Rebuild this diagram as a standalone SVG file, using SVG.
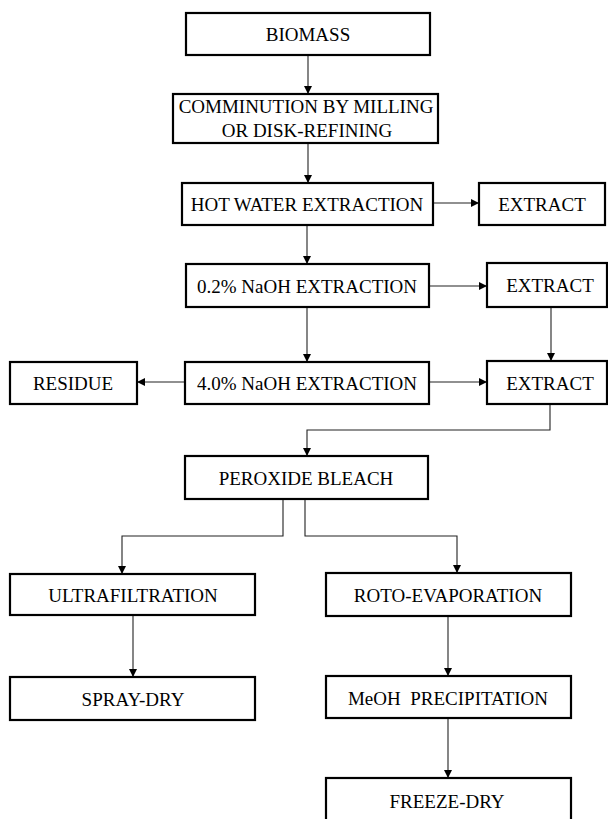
<svg xmlns="http://www.w3.org/2000/svg" width="608" height="819" viewBox="0 0 608 819">
<style>
.box{fill:#fff;stroke:#000;stroke-width:2.2}
.t{font-family:"Liberation Serif","Times New Roman",serif;font-size:19px;fill:#000;text-anchor:middle}
.c{fill:none;stroke:#222;stroke-width:1.1}
</style>
<defs>
<marker id="ah" viewBox="0 0 10 10" refX="10" refY="5" markerWidth="9" markerHeight="8" markerUnits="userSpaceOnUse" orient="auto">
<path d="M0,0 L10,5 L0,10 z" fill="#000"/>
</marker>
</defs>
<rect width="608" height="819" fill="#fff"/>
<g id="connectors">
<path class="c" d="M308,55 V94" marker-end="url(#ah)"/>
<path class="c" d="M308,143 V183" marker-end="url(#ah)"/>
<path class="c" d="M433,203 H479" marker-end="url(#ah)"/>
<path class="c" d="M307,225 V264" marker-end="url(#ah)"/>
<path class="c" d="M429,286 H487" marker-end="url(#ah)"/>
<path class="c" d="M307,307 V362" marker-end="url(#ah)"/>
<path class="c" d="M551,307 V361" marker-end="url(#ah)"/>
<path class="c" d="M185,382 H137" marker-end="url(#ah)"/>
<path class="c" d="M429,382 H487" marker-end="url(#ah)"/>
<path class="c" d="M550,404 V430 H307 V456" marker-end="url(#ah)"/>
<path class="c" d="M283,499 V536 H122 V574" marker-end="url(#ah)"/>
<path class="c" d="M305,499 V536 H457 V573" marker-end="url(#ah)"/>
<path class="c" d="M133,615 V677" marker-end="url(#ah)"/>
<path class="c" d="M448,616 V676" marker-end="url(#ah)"/>
<path class="c" d="M448,718 V778" marker-end="url(#ah)"/>
</g>
<g id="biomass"><rect class="box" x="186" y="13" width="244" height="42"/><text class="t" x="308" y="41">BIOMASS</text></g>
<g id="comminution"><rect class="box" x="173" y="94" width="265" height="49"/><text class="t" x="306" y="113">COMMINUTION BY MILLING</text><text class="t" x="307" y="137">OR DISK-REFINING</text></g>
<g id="hotwater"><rect class="box" x="182" y="183" width="251" height="42"/><text class="t" x="307" y="211">HOT WATER EXTRACTION</text></g>
<g id="extract1"><rect class="box" x="479" y="183" width="126" height="42"/><text class="t" x="542" y="211">EXTRACT</text></g>
<g id="naoh02"><rect class="box" x="186" y="264" width="243" height="43"/><text class="t" x="307" y="293">0.2% NaOH EXTRACTION</text></g>
<g id="extract2"><rect class="box" x="487" y="263" width="120" height="44"/><text class="t" x="550" y="292">EXTRACT</text></g>
<g id="residue"><rect class="box" x="10" y="362" width="127" height="42"/><text class="t" x="73" y="390">RESIDUE</text></g>
<g id="naoh40"><rect class="box" x="185" y="362" width="244" height="42"/><text class="t" x="307" y="390">4.0% NaOH EXTRACTION</text></g>
<g id="extract3"><rect class="box" x="487" y="361" width="120" height="43"/><text class="t" x="550" y="390">EXTRACT</text></g>
<g id="peroxide"><rect class="box" x="185" y="456" width="243" height="43"/><text class="t" x="306" y="485">PEROXIDE BLEACH</text></g>
<g id="ultrafiltration"><rect class="box" x="10" y="574" width="245" height="41"/><text class="t" x="133" y="602">ULTRAFILTRATION</text></g>
<g id="rotoevap"><rect class="box" x="326" y="573" width="245" height="43"/><text class="t" x="448" y="602">ROTO-EVAPORATION</text></g>
<g id="spraydry"><rect class="box" x="10" y="677" width="245" height="43"/><text class="t" x="133" y="706">SPRAY-DRY</text></g>
<g id="meoh"><rect class="box" x="326" y="676" width="245" height="42"/><text class="t" x="448" y="705" xml:space="preserve">MeOH  PRECIPITATION</text></g>
<g id="freezedry"><rect class="box" x="326" y="778" width="245" height="46"/><text class="t" x="447" y="808">FREEZE-DRY</text></g>
</svg>
